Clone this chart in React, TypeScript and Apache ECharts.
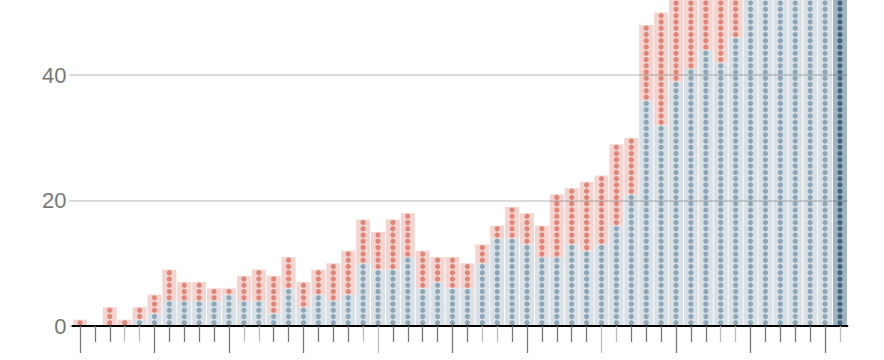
import React, { useEffect, useRef } from 'react';
import * as echarts from 'echarts';

const categories = [
  '0','1','2','3','4','5','6','7','8','9','10','11','12','13','14','15','16','17','18','19',
  '20','21','22','23','24','25','26','27','28','29','30','31','32','33','34','35','36','37','38','39',
  '40','41','42','43','44','45','46','47','48','49','50','51',
];
const blueValues = [0,0,0,0,1,2,4,4,4,4,5,4,4,2,6,3,5,4,5,10,9,9,11,6,7,6,6,10,14,14,13,11,11,13,12,13,16,21,36,32,39,41,44,42,46,54,55,56,57,58,59,60];
const redValues = [1,0,3,1,2,3,5,3,3,2,1,4,5,6,5,4,4,6,7,7,6,8,7,6,4,5,4,3,2,5,5,5,10,9,11,11,13,9,12,18,14,12,9,11,7,0,0,0,0,0,0,0];
const highlighted = [51];
const majorTicks = [0,5,10,15,20,25,30,35,40,45,50];
const lightTicks = [3,4,11,12,19,20,27,28,35,36,43,44,51];

const BLUE_BG = '#d9e1e7';
const BLUE_DOT = '#8ea6b6';
const RED_BG = '#f4d4d0';
const RED_DOT = '#df8678';
const DARK_BG = '#a1b4c2';
const DARK_DOT = '#44677f';

export default function App() {
  const ref = useRef<HTMLDivElement>(null);
  useEffect(() => {
    if (!ref.current) return;
    const chart = echarts.init(ref.current, null, { renderer: 'svg' });
    const tickAxis = (show: (i: number) => boolean, len: number, color: string, main: boolean) => ({
      type: 'category',
      data: categories,
      position: 'bottom',
      boundaryGap: true,
      z: 5,
      axisLine: main ? { show: true, lineStyle: { color: '#000', width: 2 } } : { show: false },
      axisTick: {
        show: true,
        alignWithLabel: true,
        length: len,
        interval: (i: number) => show(i),
        lineStyle: { color, width: 1.3 },
      },
      axisLabel: { show: false },
      splitLine: { show: false },
    });
    const isMajor = (i: number) => majorTicks.includes(i);
    const isLight = (i: number) => lightTicks.includes(i);
    chart.setOption({
      animation: false,
      grid: { left: 72.5, right: 36.6, top: -50.2, bottom: 34, outerBoundsMode: 'none', containLabel: false },
      xAxis: [
        tickAxis((i) => !isMajor(i) && !isLight(i), 16, '#777', true),
        tickAxis((i) => !isMajor(i) && isLight(i), 16, '#bbb', false),
        tickAxis((i) => isMajor(i) && !isLight(i), 27, '#777', false),
        tickAxis((i) => isMajor(i) && isLight(i), 27, '#bbb', false),
      ],
      yAxis: {
        type: 'value',
        min: 0,
        max: 60,
        interval: 20,
        z: 4,
        axisLine: { show: false },
        axisTick: { show: true, length: 3, lineStyle: { color: 'rgba(0,0,0,0.2)', width: 1.5 } },
        axisLabel: {
          fontSize: 22,
          color: '#777',
          margin: 6,
          showMaxLabel: false,
          fontFamily: 'Liberation Sans, Arial, sans-serif',
        },
        splitLine: { show: true, lineStyle: { color: 'rgba(0,0,0,0.2)', width: 1.5 } },
      },
      series: [
        {
          type: 'bar',
          stack: 'bg',
          barWidth: 14,
          xAxisIndex: 0,
          data: blueValues.map((v, i) => ({
            value: v,
            itemStyle: { color: highlighted.includes(i) ? DARK_BG : BLUE_BG },
          })),
        },
        {
          type: 'bar',
          stack: 'bg',
          barWidth: 14,
          xAxisIndex: 0,
          itemStyle: { color: RED_BG },
          data: redValues,
        },
        {
          type: 'custom',
          xAxisIndex: 0,
          z: 3,
          clip: true,
          data: categories.map((c, i) => [i, blueValues[i], redValues[i], highlighted.includes(i) ? 1 : 0]),
          encode: { x: 0, y: 1 },
          renderItem: (params: any, api: any) => {
            const i = api.value(0);
            const b = api.value(1);
            const r = api.value(2);
            const hl = api.value(3);
            const children: any[] = [];
            for (let k = 0; k < b + r; k++) {
              const p = api.coord([i, k + 0.5]);
              children.push({
                type: 'circle',
                shape: { cx: p[0], cy: p[1], r: 2.6 },
                style: { fill: k < b ? (hl ? DARK_DOT : BLUE_DOT) : RED_DOT },
              });
            }
            return { type: 'group', children };
          },
        },
      ],
    });
    return () => chart.dispose();
  }, []);
  return (
    <div
      ref={ref}
      style={{ position: 'fixed', left: 0, top: 0, width: 884, height: 360, background: '#fff' }}
    />
  );
}
